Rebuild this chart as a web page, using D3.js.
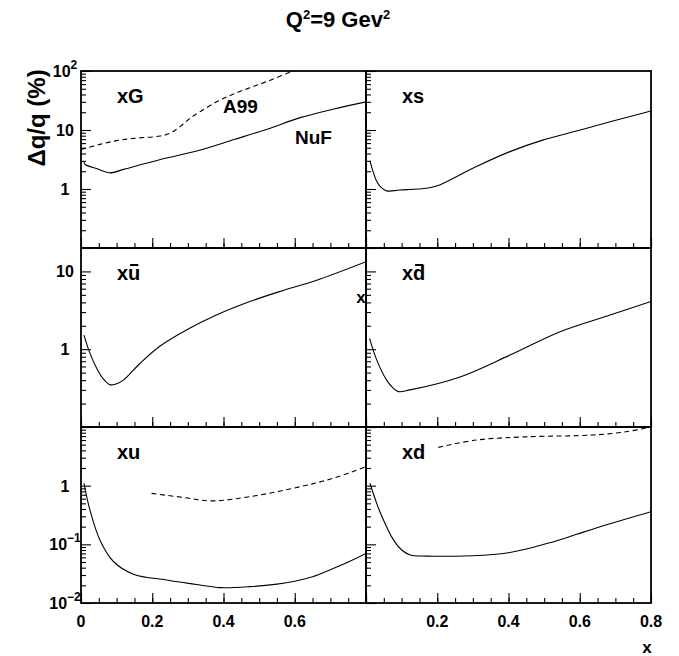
<!DOCTYPE html>
<html>
<head>
<meta charset="utf-8">
<script src="https://cdn.jsdelivr.net/npm/d3@7"></script>
<style>
  body { margin: 0; background: #fff; }
  svg { font-family: "Liberation Sans", Arial, Helvetica, sans-serif; font-weight: bold; }
</style>
</head>
<body>
<svg id="chart" width="679" height="656"></svg>
<script>
// tick values
const xMajorTicks = [0, 0.2, 0.4, 0.6, 0.8];
const xMinorTicks = [0, 0.05, 0.1, 0.15, 0.2, 0.25, 0.3, 0.35, 0.4, 0.45, 0.5, 0.55, 0.6, 0.65, 0.7, 0.75, 0.8];
const xLabelsLeft = [0, 0.2, 0.4, 0.6];
const xLabelsRight = [0.2, 0.4, 0.6, 0.8];

// y range for each row (log)
const rowRange = [[0.1, 100], [0.1, 20], [0.01, 10]];
const rowLabels = [
  [{ v: 100, t: "10", sup: "2" }, { v: 10, t: "10" }, { v: 1, t: "1" }],
  [{ v: 10, t: "10" }, { v: 1, t: "1" }],
  [{ v: 1, t: "1" }, { v: 0.1, t: "10", sup: "\u22121" }, { v: 0.01, t: "10", sup: "\u22122" }]
];

// curves: [x, dq/q in %]
const xgNuF = [[0.008, 2.85], [0.012, 2.6], [0.045, 2.2], [0.08, 1.88], [0.12, 2.15], [0.18, 2.7], [0.24, 3.35],
  [0.33, 4.5], [0.43, 6.9], [0.52, 10.2], [0.615, 16.2], [0.71, 22.7], [0.8, 30]];
const xgA99 = [[0, 4.7], [0.053, 5.7], [0.1, 6.6], [0.147, 7.2], [0.222, 7.9], [0.25, 8.8], [0.278, 11.4],
  [0.306, 15.8], [0.334, 20.4], [0.381, 30], [0.428, 40.7], [0.474, 52], [0.521, 66], [0.596, 100], [0.65, 125]];
const xsNuF = [[0.011, 3.0], [0.022, 1.8], [0.03, 1.35], [0.04, 1.1], [0.058, 0.93], [0.095, 0.96], [0.17, 1.03],
  [0.198, 1.12], [0.226, 1.33], [0.31, 2.4], [0.404, 4.3], [0.498, 6.8], [0.591, 9.6], [0.685, 13.8], [0.8, 21]];
const xubarNuF = [[0.0084, 1.52], [0.025, 0.89], [0.044, 0.57], [0.06, 0.43], [0.081, 0.35], [0.1, 0.36],
  [0.119, 0.4], [0.166, 0.66], [0.222, 1.1], [0.296, 1.77], [0.38, 2.75], [0.474, 4.1], [0.568, 5.7],
  [0.662, 7.7], [0.8, 13.3]];
const xdbarNuF = [[0.01, 1.38], [0.03, 0.73], [0.058, 0.40], [0.075, 0.32], [0.091, 0.285], [0.124, 0.30],
  [0.264, 0.44], [0.404, 0.84], [0.545, 1.68], [0.685, 2.75], [0.8, 4.1]];
const xuNuF = [[0.0084, 1.1], [0.025, 0.385], [0.053, 0.119], [0.091, 0.051], [0.147, 0.031], [0.24, 0.0247],
  [0.334, 0.0203], [0.39, 0.0183], [0.474, 0.019], [0.55, 0.021], [0.6, 0.0235], [0.65, 0.028], [0.7, 0.037],
  [0.75, 0.05], [0.8, 0.07]];
const xuA99 = [[0.198, 0.74], [0.287, 0.63], [0.367, 0.55], [0.474, 0.65], [0.615, 0.96], [0.708, 1.34], [0.8, 2.1]];
const xdNuF = [[0.011, 1.1], [0.025, 0.61], [0.039, 0.36], [0.077, 0.119], [0.1, 0.08], [0.124, 0.066],
  [0.17, 0.063], [0.3, 0.064], [0.357, 0.067], [0.4, 0.072], [0.45, 0.083], [0.5, 0.1], [0.545, 0.12],
  [0.591, 0.148], [0.685, 0.225], [0.8, 0.36]];
const xdA99 = [[0.203, 4.5], [0.31, 6.0], [0.45, 6.8], [0.637, 7.3], [0.73, 8.3], [0.8, 10]];

const panels = [
  { row: 0, col: 0, name: "xG", bar: false, solid: xgNuF, dashed: xgA99 },
  { row: 0, col: 1, name: "xs", bar: false, solid: xsNuF },
  { row: 1, col: 0, name: "xu", bar: true, solid: xubarNuF },
  { row: 1, col: 1, name: "xd", bar: true, solid: xdbarNuF },
  { row: 2, col: 0, name: "xu", bar: false, solid: xuNuF, dashed: xuA99 },
  { row: 2, col: 1, name: "xd", bar: false, solid: xdNuF, dashed: xdA99 }
];

const svg = d3.select("#chart");
const colEdges = [81, 366, 651];
const rowEdges = [71, 248, 427, 603];

const xScales = [0, 1].map(c => d3.scaleLinear().domain([0, 0.8]).range([colEdges[c], colEdges[c + 1]]));
const yScales = rowRange.map((d, r) => d3.scaleLog().domain(d).range([rowEdges[r + 1], rowEdges[r]]));

const isDecade = v => Math.abs(Math.log10(v) - Math.round(Math.log10(v))) < 1e-6;

panels.forEach((p, i) => {
  const x = xScales[p.col], y = yScales[p.row];
  const x0 = colEdges[p.col], x1 = colEdges[p.col + 1];
  const y0 = rowEdges[p.row], y1 = rowEdges[p.row + 1];
  const g = svg.append("g").attr("class", "panel");

  g.append("clipPath").attr("id", "clip" + i)
    .append("rect").attr("x", x0).attr("y", y0).attr("width", x1 - x0).attr("height", y1 - y0);

  const line = d3.line().x(d => x(d[0])).y(d => y(d[1])).curve(d3.curveCatmullRom.alpha(0.5));
  const curves = g.append("g").attr("clip-path", `url(#clip${i})`);
  curves.append("path").attr("d", line(p.solid))
    .attr("fill", "none").attr("stroke", "#000").attr("stroke-width", 1.1);
  if (p.dashed) {
    curves.append("path").attr("d", line(p.dashed))
      .attr("fill", "none").attr("stroke", "#000").attr("stroke-width", 1.1)
      .attr("stroke-dasharray", "5,3.5");
  }

  // y ticks, inside on the left edge
  const yt = y.ticks();
  [[yt.filter(v => !isDecade(v)), 5], [yt.filter(isDecade), 10]].forEach(([vals, size]) => {
    const a = g.append("g").attr("transform", `translate(${x0},0)`)
      .call(d3.axisRight(y).tickValues(vals).tickSize(size).tickFormat(""));
    a.select(".domain").remove();
    a.selectAll("line").attr("stroke-width", 1.1);
  });

  // x ticks, pointing up from the bottom edge
  [[xMinorTicks, 5], [xMajorTicks, 10]].forEach(([vals, size]) => {
    const a = g.append("g").attr("transform", `translate(0,${y1})`)
      .call(d3.axisTop(x).tickValues(vals).tickSize(size).tickFormat(""));
    a.select(".domain").remove();
    a.selectAll("line").attr("stroke-width", 1.1);
  });

  g.append("rect").attr("x", x0).attr("y", y0).attr("width", x1 - x0).attr("height", y1 - y0)
    .attr("fill", "none").attr("stroke", "#000").attr("stroke-width", 1.8);

  // panel name
  const lbl = g.append("text").attr("x", x0 + 36).attr("y", y0 + 32)
    .attr("font-size", 20).text(p.name);
  if (p.bar) {
    const node = lbl.node();
    const sx = node.getStartPositionOfChar(1).x;
    const w = node.getSubStringLength(1, 1);
    g.append("line").attr("x1", sx + 2).attr("x2", sx + w - 2)
      .attr("y1", y0 + 17).attr("y2", y0 + 17)
      .attr("stroke", "#000").attr("stroke-width", 2);
  }
});

// y tick labels
rowLabels.forEach((labels, r) => {
  const y = yScales[r];
  labels.forEach(l => {
    const t = svg.append("text").attr("x", 65).attr("y", y(l.v) + 6)
      .attr("text-anchor", "middle").attr("font-size", 16);
    t.append("tspan").text(l.t);
    if (l.sup) t.append("tspan").attr("dy", -8).attr("font-size", 12).text(l.sup);
  });
});

// x tick labels
[[xScales[0], xLabelsLeft], [xScales[1], xLabelsRight]].forEach(([x, vals]) => {
  svg.selectAll(null).data(vals).enter().append("text")
    .attr("x", d => x(d)).attr("y", 627)
    .attr("text-anchor", "middle").attr("font-size", 16)
    .text(d => d === 0 ? "0" : d3.format(".1f")(d));
});

// curve labels in the xG panel
svg.append("text").attr("x", 223).attr("y", 113).attr("font-size", 19).text("A99");
svg.append("text").attr("x", 295).attr("y", 144).attr("font-size", 19).text("NuF");

// stray axis titles
svg.append("text").attr("x", 361).attr("y", 303).attr("text-anchor", "middle").attr("font-size", 17).text("x");
svg.append("text").attr("x", 647).attr("y", 653).attr("text-anchor", "middle").attr("font-size", 17).text("x");

// y title
svg.append("text").attr("transform", "translate(45,118) rotate(-90)")
  .attr("text-anchor", "middle").attr("font-size", 24).text("\u0394q/q (%)");

// title
const title = svg.append("text").attr("x", 338).attr("y", 27).attr("text-anchor", "middle").attr("font-size", 22);
title.append("tspan").text("Q");
title.append("tspan").attr("dy", -8).attr("font-size", 13).text("2");
title.append("tspan").attr("dy", 8).text("=9 Gev");
title.append("tspan").attr("dy", -8).attr("font-size", 13).text("2");
</script>
</body>
</html>
